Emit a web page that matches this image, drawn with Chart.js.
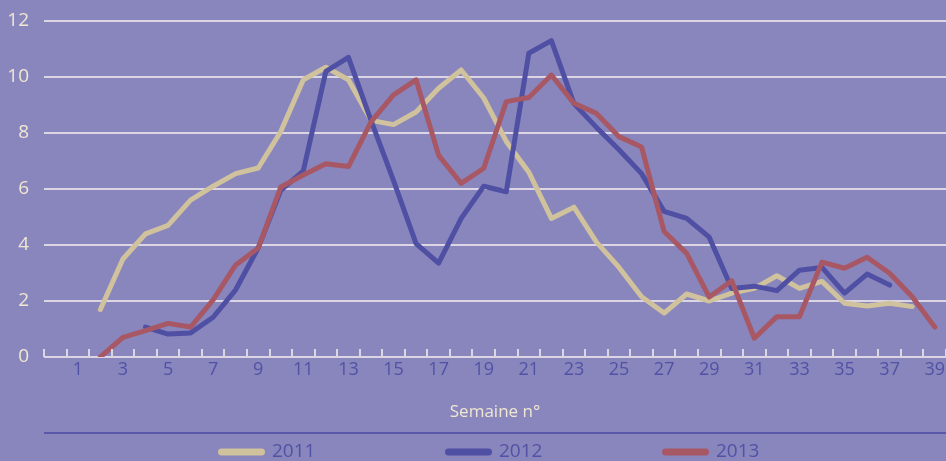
<!DOCTYPE html>
<html><head><meta charset="utf-8">
<script src="https://cdn.jsdelivr.net/npm/chart.js@4"></script>
<style>html,body{margin:0;padding:0;background:#8985bd;overflow:hidden}</style></head>
<body><canvas id="c" width="946" height="461"></canvas>
<script>
const weeks = ['', '1','2','3','4','5','6','7','8','9','10','11','12','13','14','15','16','17','18','19','20','21','22','23','24','25','26','27','28','29','30','31','32','33','34','35','36','37','38','39'];
const seriesNames = ['2011', '2012', '2013'];
const y2011 = [null, null, 1.7, 3.5, 4.4, 4.7, 5.6, 6.1, 6.55, 6.75, 8.05, 9.9, 10.35, 9.9, 8.45, 8.3, 8.75, 9.6, 10.25, 9.25, 7.7, 6.6, 4.95, 5.35, 4.1, 3.2, 2.15, 1.57, 2.25, 2.0, 2.28, 2.45, 2.9, 2.45, 2.7, 1.92, 1.82, 1.92, 1.8, null];
const y2012 = [null, null, null, null, 1.07, 0.82, 0.86, 1.42, 2.4, 3.9, 5.95, 6.65, 10.2, 10.7, 8.45, 6.3, 4.05, 3.35, 4.95, 6.1, 5.9, 10.85, 11.3, 9.05, 8.2, 7.4, 6.55, 5.2, 4.95, 4.28, 2.45, 2.53, 2.37, 3.1, 3.2, 2.28, 2.96, 2.57, null, null];
const y2013 = [null, null, 0, 0.7, 0.94, 1.2, 1.07, 2.04, 3.29, 3.89, 6.07, 6.5, 6.9, 6.8, 8.4, 9.36, 9.9, 7.2, 6.2, 6.74, 9.12, 9.27, 10.07, 9.06, 8.7, 7.87, 7.5, 4.48, 3.7, 2.14, 2.72, 0.67, 1.44, 1.44, 3.39, 3.17, 3.56, 2.99, 2.15, 1.07];
const yTicks = [0, 2, 4, 6, 8, 10, 12];

const BG = '#8985bd';
const CREAM = '#efe7d2';
const GRID = '#dcd6e4';
const DARKBLUE = '#5152a5';
const COLORS = ['#cfc29d', '#4f4fa3', '#a85864'];
const FONT = "'Open Sans', 'Noto Sans', sans-serif";

const bgPlugin = {
  id: 'bg',
  beforeDraw(chart) {
    const c = chart.ctx;
    c.save(); c.fillStyle = BG; c.fillRect(0, 0, chart.width, chart.height); c.restore();
  }
};

const tickPlugin = {
  id: 'upTicks',
  afterDatasetsDraw(chart) {
    const xs = chart.scales.x, c = chart.ctx, b = chart.chartArea.bottom;
    const step = xs.getPixelForValue(1) - xs.getPixelForValue(0);
    c.save(); c.strokeStyle = GRID; c.lineWidth = 2;
    for (let i = 0; i <= weeks.length; i++) {
      const px = Math.round(xs.getPixelForValue(i) - step / 2);
      c.beginPath(); c.moveTo(px, b - 8); c.lineTo(px, b); c.stroke();
    }
    c.restore();
  }
};

const legendPlugin = {
  id: 'customLegend',
  afterDraw(chart) {
    const c = chart.ctx;
    const starts = [218, 445, 662];
    const y = 452;
    c.save();
    c.strokeStyle = '#5a58a9'; c.lineWidth = 2;
    c.beginPath(); c.moveTo(chart.chartArea.left, 433); c.lineTo(chart.width, 433); c.stroke();
    chart.data.datasets.forEach((ds, i) => {
      const x0 = starts[i];
      c.strokeStyle = ds.borderColor; c.lineWidth = 7; c.lineCap = 'round';
      c.beginPath(); c.moveTo(x0 + 3.5, y); c.lineTo(x0 + 43.5, y); c.stroke();
      c.fillStyle = DARKBLUE; c.font = '19px ' + FONT; c.textBaseline = 'middle'; c.textAlign = 'left';
      c.fillText(ds.label, x0 + 54, y);
    });
    c.restore();
  }
};

const mk = (label, data, color, order) => ({
  label, data, borderColor: color, backgroundColor: color, borderWidth: 5,
  pointRadius: 0, tension: 0, borderCapStyle: 'round', borderJoinStyle: 'round', order, spanGaps: false
});

new Chart(document.getElementById('c'), {
  type: 'line',
  data: {
    labels: weeks,
    datasets: [
      mk(seriesNames[0], y2011, COLORS[0], 3),
      mk(seriesNames[1], y2012, COLORS[1], 2),
      mk(seriesNames[2], y2013, COLORS[2], 1)
    ]
  },
  options: {
    responsive: false,
    animation: false,
    layout: { padding: { top: 21, right: 0, bottom: 28, left: 0 } },
    plugins: { legend: { display: false }, tooltip: { enabled: false } },
    scales: {
      x: {
        type: 'category', offset: true,
        grid: { display: false }, border: { display: false },
        ticks: {
          color: DARKBLUE, font: { family: FONT, size: 18 }, autoSkip: false, maxRotation: 0, padding: -6,
          callback: (v, i) => (i % 2 === 1 ? weeks[i] : '')
        },
        title: { display: true, text: 'Semaine n°', color: CREAM, font: { family: FONT, size: 17 }, padding: { top: 0, bottom: 11 } },
        afterFit: s => { s.height = 76; }
      },
      y: {
        min: 0, max: 12,
        afterBuildTicks: s => { s.ticks = yTicks.map(v => ({ value: v })); },
        grid: { color: GRID, lineWidth: 2, drawTicks: false },
        border: { display: false },
        ticks: { color: CREAM, font: { family: FONT, size: 19 }, padding: 15 },
        afterFit: s => { s.width = 44; s.paddingTop = 0; s.paddingBottom = 0; }
      }
    }
  },
  plugins: [bgPlugin, tickPlugin, legendPlugin]
});
</script>
</body></html>
